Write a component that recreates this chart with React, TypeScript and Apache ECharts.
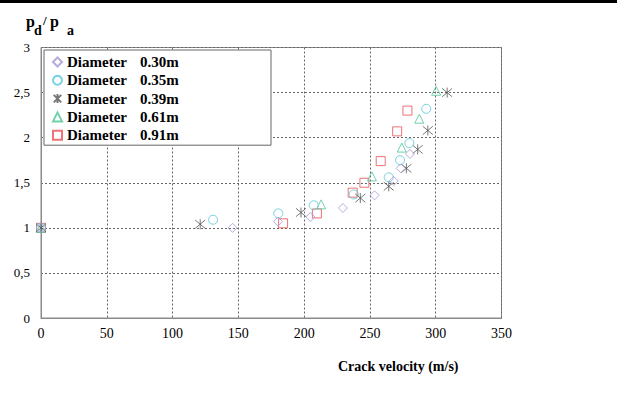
import React, { useEffect, useRef } from "react";
import * as echarts from "echarts";

const seriesNames = ["Diameter 0.30m", "Diameter 0.35m", "Diameter 0.39m", "Diameter 0.61m", "Diameter 0.91m"];

const d030: [number, number][] = [
  [0, 1], [145.6, 1.0], [180.2, 1.07], [204.7, 1.12], [229.5, 1.22], [253.5, 1.36], [268.1, 1.52], [273.4, 1.66], [280.4, 1.82],
];
const d035: [number, number][] = [
  [0, 1], [130.8, 1.09], [180.4, 1.16], [207.3, 1.25], [237.7, 1.37], [264.3, 1.56], [272.9, 1.75], [280, 1.94], [292.8, 2.32],
];
const d039: [number, number][] = [
  [0, 1], [121, 1.04], [197.6, 1.17], [242.7, 1.33], [264.3, 1.46], [277.7, 1.66], [286.3, 1.87], [294, 2.08], [308.7, 2.5],
];
const d061: [number, number][] = [
  [0, 1], [212.9, 1.26], [251.5, 1.57], [274.2, 1.89], [287.5, 2.21], [300.3, 2.52],
];
const d091: [number, number][] = [
  [0, 1], [184, 1.05], [209.7, 1.16], [236.9, 1.39], [245.8, 1.5], [258.2, 1.74], [270.7, 2.07], [278.5, 2.3],
];

const xTicks = [0, 50, 100, 150, 200, 250, 300, 350];
const yTicks = [0, 0.5, 1, 1.5, 2, 2.5, 3];

const colors = ["#a596d2", "#55c6d8", "#555555", "#4fc596", "#ea4f55"];
const symbols = [
  "diamond",
  "circle",
  "path://M0,0L10,10M10,0L0,10M5,-1L5,11",
  "triangle",
  "rect",
];
const sizes = [9, 9, 10, 9, 9];

const serif = "'Liberation Serif', 'Times New Roman', serif";

export default function App() {
  const ref = useRef<HTMLDivElement>(null);
  useEffect(() => {
    if (!ref.current) return;
    const chart = echarts.init(ref.current, undefined, { renderer: "svg" });
    const datasets = [d030, d035, d039, d061, d091];
    const series = datasets.map((d, i) => ({
      name: seriesNames[i],
      type: "scatter",
      data: d,
      symbol: symbols[i],
      symbolSize: sizes[i],
      itemStyle: {
        color: "rgba(0,0,0,0)",
        borderColor: colors[i],
        borderWidth: 1,
      },
      z: 5 - i,
    }));
    const t = (text: string, x: number, y: number, size: number) => ({
      type: "text",
      x,
      y,
      style: {
        text,
        fontFamily: serif,
        fontWeight: "bold",
        fontSize: size,
        fill: "#000",
      },
    });
    chart.setOption({
      animation: false,
      backgroundColor: "#fff",
      grid: {
        left: 41,
        top: 47.5,
        right: 115.5,
        bottom: 83,
        show: true,
        borderColor: "#8a8a8a",
        borderWidth: 1,
        backgroundColor: "transparent",
      },
      legend: {
        orient: "vertical",
        left: 44,
        top: 50,
        width: 228,
        padding: [3, 0, 1, 8],
        itemWidth: 9,
        itemHeight: 9,
        itemGap: 0.3,
        backgroundColor: "#fff",
        borderColor: "#666",
        borderWidth: 1,
        data: seriesNames,
        formatter: (n: string) => {
          const parts = n.split(" ");
          return "{a|" + parts[0] + "}{b|" + parts[1] + "}";
        },
        textStyle: {
          fontFamily: serif,
          fontWeight: "bold",
          fontSize: 15,
          color: "#000",
          lineHeight: 18,
          rich: {
            a: { fontFamily: serif, fontWeight: "bold", fontSize: 15, width: 73, lineHeight: 18 },
            b: { fontFamily: serif, fontWeight: "bold", fontSize: 15, width: 131, lineHeight: 18 },
          },
        },
      },
      xAxis: {
        type: "value",
        min: 0,
        max: 350,
        interval: 50,
        axisLine: { show: true, lineStyle: { color: "#8a8a8a", width: 1 } },
        axisTick: { show: false },
        axisLabel: {
          fontFamily: serif,
          fontSize: 14,
          color: "#000",
          margin: 8,
          formatter: (v: number) => (xTicks.includes(v) ? String(v) : ""),
        },
        splitLine: { show: true, lineStyle: { color: "#666", type: [2, 2], width: 1 } },
        name: "Crack velocity (m/s)",
        nameLocation: "middle",
        nameGap: 41,
        nameTextStyle: {
          fontFamily: serif,
          fontWeight: "bold",
          fontSize: 14,
          color: "#000",
          padding: [0, 0, 0, 254],
        },
      },
      yAxis: {
        type: "value",
        min: 0,
        max: 3,
        interval: 0.5,
        axisLine: { show: true, lineStyle: { color: "#8a8a8a", width: 1 } },
        axisTick: { show: false },
        axisLabel: {
          fontFamily: serif,
          fontSize: 13,
          color: "#000",
          margin: 11,
          formatter: (v: number) => (yTicks.includes(v) ? String(v).replace(".", ",") : ""),
        },
        splitLine: { show: true, lineStyle: { color: "#666", type: [2, 2], width: 1 } },
      },
      graphic: [
        { type: "rect", left: 0, top: 0, shape: { x: 0, y: 0, width: 617, height: 3 }, style: { fill: "#000" } },
        t("p", 26, 13, 16),
        t("d", 34, 23, 14),
        t("/", 43, 14, 13),
        t("p", 50, 13, 16),
        t("a", 67, 23, 14),
      ],
      series,
    });
    return () => chart.dispose();
  }, []);
  return (
    <div
      ref={ref}
      style={{ position: "fixed", left: 0, top: 0, width: 617, height: 401, background: "#fff" }}
    />
  );
}
